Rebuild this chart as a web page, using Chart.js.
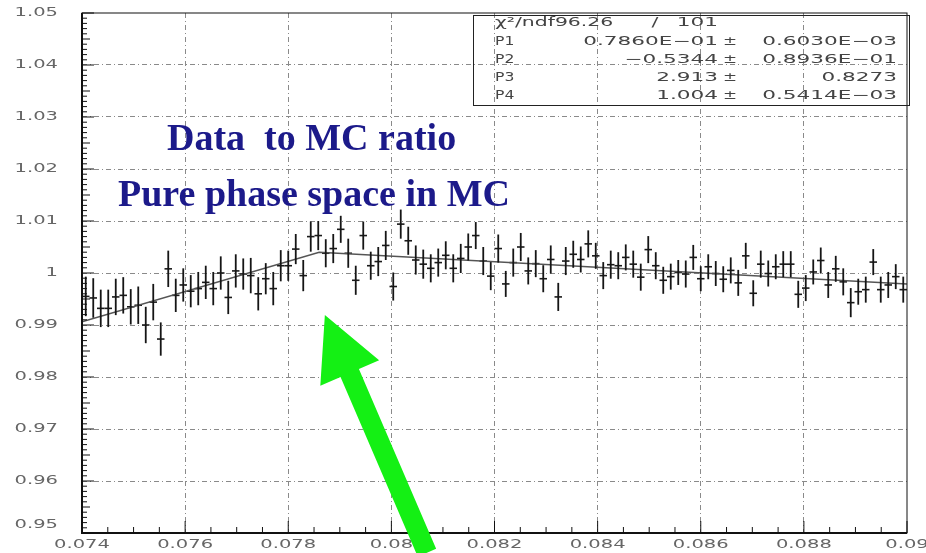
<!DOCTYPE html>
<html>
<head>
<meta charset="utf-8">
<script src="https://cdn.jsdelivr.net/npm/chart.js@4.4.0/dist/chart.umd.min.js"></script>
<style>
  html, body { margin: 0; padding: 0; background: #fff; }
  #wrap { width: 926px; height: 553px; }
</style>
</head>
<body>
<div id="wrap"><canvas id="ratioChart" width="926" height="553"></canvas></div>
<script>
// axis ranges
const xMin = 0.074, xMax = 0.09;
const yMin = 0.95, yMax = 1.05;

// data / MC ratio per bin
const ratioValues = [
  0.9955, 0.9952, 0.9932, 0.9932, 0.9954, 0.9957, 0.9935, 0.9938, 0.9900, 0.9944,
  0.9873, 1.0008, 0.9957, 0.9977, 0.9965, 0.9970, 0.9982, 0.9970, 1.0000, 0.9953,
  1.0004, 0.9998, 0.9995, 0.9960, 0.9989, 0.9970, 1.0014, 1.0014, 1.0046, 0.9995,
  1.0070, 1.0072, 1.0038, 1.0047, 1.0084, 1.0038, 0.9986, 1.0072, 1.0014, 1.0022,
  1.0053, 0.9974, 1.0094, 1.0062, 1.0025, 1.0017, 1.0009, 1.0020, 1.0034, 1.0009,
  1.0028, 1.0050, 1.0072, 1.0023, 0.9994, 1.0047, 0.9979, 1.0020, 1.0050, 1.0004,
  1.0018, 0.9989, 1.0026, 0.9954, 1.0023, 1.0036, 1.0026, 1.0056, 1.0033, 0.9995,
  1.0016, 1.0014, 1.0030, 1.0017, 0.9992, 1.0045, 1.0014, 0.9986, 0.9993, 1.0001,
  0.9998, 1.0030, 0.9989, 1.0012, 0.9999, 0.9988, 1.0005, 0.9981, 1.0033, 0.9961,
  1.0017, 0.9999, 1.0012, 1.0017, 1.0017, 0.9959, 0.9971, 1.0002, 1.0024, 0.9977,
  1.0008, 0.9983, 0.9943, 0.9964, 0.9968, 1.0021, 0.9968, 0.9977, 0.9993, 0.9968
];
const ratioErrors = [
  0.0038, 0.0038, 0.0036, 0.0036, 0.0035, 0.0035, 0.0034, 0.0036, 0.0035, 0.0035,
  0.0032, 0.0035, 0.0032, 0.0032, 0.0031, 0.0032, 0.0032, 0.0032, 0.0032, 0.0032,
  0.0032, 0.0030, 0.0034, 0.0032, 0.0030, 0.0032, 0.0030, 0.0029, 0.0029, 0.0030,
  0.0029, 0.0028, 0.0027, 0.0028, 0.0026, 0.0028, 0.0028, 0.0027, 0.0027, 0.0028,
  0.0028, 0.0027, 0.0028, 0.0027, 0.0028, 0.0028, 0.0027, 0.0027, 0.0027, 0.0027,
  0.0028, 0.0026, 0.0026, 0.0027, 0.0027, 0.0027, 0.0025, 0.0027, 0.0027, 0.0026,
  0.0026, 0.0026, 0.0027, 0.0027, 0.0027, 0.0026, 0.0025, 0.0026, 0.0025, 0.0026,
  0.0027, 0.0026, 0.0025, 0.0026, 0.0026, 0.0026, 0.0026, 0.0026, 0.0025, 0.0024,
  0.0026, 0.0024, 0.0024, 0.0024, 0.0024, 0.0025, 0.0025, 0.0025, 0.0025, 0.0025,
  0.0026, 0.0025, 0.0024, 0.0025, 0.0025, 0.0026, 0.0025, 0.0024, 0.0025, 0.0025,
  0.0025, 0.0026, 0.0028, 0.0025, 0.0025, 0.0025, 0.0025, 0.0025, 0.0024, 0.0025
];

// fitted broken line (P1 = break point)
const fitX = [0.074, 0.0786, 0.09];
const fitY = [0.9906, 1.0040, 0.9979];

const xTickValues = [0.074, 0.076, 0.078, 0.08, 0.082, 0.084, 0.086, 0.088, 0.09];
const xTickLabels = ['0.074', '0.076', '0.078', '0.08', '0.082', '0.084', '0.086', '0.088', '0.09'];
const yTickValues = [0.95, 0.96, 0.97, 0.98, 0.99, 1.0, 1.01, 1.02, 1.03, 1.04, 1.05];
const yTickLabels = ['0.95', '0.96', '0.97', '0.98', '0.99', '1', '1.01', '1.02', '1.03', '1.04', '1.05'];

// fit statistics box
const chiLabel = '\u03c7\u00b2/ndf';
const chiValue = '96.26';
const ndfValue = '101';
const parNames = ['P1', 'P2', 'P3', 'P4'];
const parValues = ['0.7860E\u221201', '\u22120.5344', '2.913', '1.004'];
const parErrors = ['0.6030E\u221203', '0.8936E\u221201', '0.8273', '0.5414E\u221203'];

const titleLines = ['Data  to MC ratio', 'Pure phase space in MC'];

// arrow in data coordinates: tip and tail
const arrowTip = [0.07871, 0.9919];
const arrowTail = [0.08069, 0.9462];

const binWidth = (xMax - xMin) / ratioValues.length;
const ratioPoints = ratioValues.map((v, i) => ({ x: xMin + (i + 0.5) * binWidth, y: v }));
const fitPoints = fitX.map((x, i) => ({ x: x, y: fitY[i] }));

function wideText(ctx, text, x, y, sx, align) {
    const w = ctx.measureText(text).width * sx;
    let left = x;
    if (align === 'right') left = x - w;
    else if (align === 'center') left = x - w / 2;
    ctx.save();
    ctx.translate(left, y);
    ctx.scale(sx, 1);
    ctx.textAlign = 'left';
    ctx.fillText(text, 0, 0);
    ctx.restore();
}

const rootStyle = {
    id: 'rootStyle',
    afterDatasetsDraw(chart) {
        const ctx = chart.ctx;
        const xs = chart.scales.x, ys = chart.scales.y;
        // vertical error bars
        ctx.save();
        ctx.strokeStyle = '#151515';
        ctx.lineWidth = 1.8;
        ratioPoints.forEach((p, i) => {
            const px = xs.getPixelForValue(p.x);
            ctx.beginPath();
            ctx.moveTo(px, ys.getPixelForValue(p.y - ratioErrors[i]));
            ctx.lineTo(px, ys.getPixelForValue(p.y + ratioErrors[i]));
            ctx.stroke();
        });
        ctx.restore();
    },
    afterDraw(chart) {
        const ctx = chart.ctx;
        const area = chart.chartArea;
        const xs = chart.scales.x, ys = chart.scales.y;

        ctx.save();
        // frame
        ctx.strokeStyle = '#111';
        ctx.lineWidth = 1;
        ctx.strokeRect(area.left, area.top, area.right - area.left, area.bottom - area.top);
        ctx.lineWidth = 2;
        ctx.beginPath();
        ctx.moveTo(area.left, area.top);
        ctx.lineTo(area.left, area.bottom);
        ctx.lineTo(area.right, area.bottom);
        ctx.stroke();

        // inward ticks on y axis
        ctx.lineWidth = 1;
        for (let k = 0; k <= 100; k++) {
            const py = ys.getPixelForValue(yMin + k * 0.001);
            const len = (k % 10 === 0) ? 12 : (k % 5 === 0 ? 8 : 5);
            ctx.beginPath();
            ctx.moveTo(area.left, py);
            ctx.lineTo(area.left + len, py);
            ctx.stroke();
        }
        // inward ticks on x axis
        for (let k = 0; k <= 32; k++) {
            const px = xs.getPixelForValue(xMin + k * 0.0005);
            const len = (k % 4 === 0) ? 12 : 6;
            ctx.beginPath();
            ctx.moveTo(px, area.bottom);
            ctx.lineTo(px, area.bottom - len);
            ctx.stroke();
        }

        // tick labels
        ctx.fillStyle = '#666';
        ctx.font = '13px "DejaVu Sans"';
        ctx.textBaseline = 'middle';
        yTickValues.forEach((v, i) => {
            const py = Math.min(ys.getPixelForValue(v), area.bottom - 8);
            wideText(ctx, yTickLabels[i], 58, py, 1.5, 'right');
        });
        ctx.textBaseline = 'top';
        xTickValues.forEach((v, i) => {
            wideText(ctx, xTickLabels[i], xs.getPixelForValue(v), 538, 1.5, 'center');
        });

        // stats box
        ctx.lineWidth = 1;
        ctx.strokeStyle = '#222';
        ctx.strokeRect(473.5, 15.5, 436, 90);
        ctx.fillStyle = '#444';
        ctx.font = '12px "DejaVu Sans"';
        ctx.textBaseline = 'middle';
        const rowY = [23, 42, 60, 78, 96];
        ctx.save();
        ctx.translate(495, rowY[0]);
        ctx.scale(1.7, 1);
        ctx.fillText(chiLabel + chiValue, 0, 0);
        ctx.restore();
        wideText(ctx, '/', 655, rowY[0], 1.7, 'center');
        wideText(ctx, ndfValue, 718, rowY[0], 1.8, 'right');
        parNames.forEach((name, i) => {
            const y = rowY[i + 1];
            wideText(ctx, name, 495, y, 1.3, 'left');
            wideText(ctx, parValues[i], 718, y, 1.8, 'right');
            wideText(ctx, '\u00b1', 730, y, 1.4, 'center');
            wideText(ctx, parErrors[i], 897, y, 1.8, 'right');
        });

        // title text
        ctx.fillStyle = '#1c1a8a';
        ctx.font = 'bold 38px "Liberation Serif"';
        ctx.textBaseline = 'alphabetic';
        ctx.textAlign = 'left';
        ctx.fillText(titleLines[0], 167, 150);
        ctx.fillText(titleLines[1], 118, 206);

        // green arrow
        const tx = xs.getPixelForValue(arrowTip[0]), ty = ys.getPixelForValue(arrowTip[1]);
        const bx = xs.getPixelForValue(arrowTail[0]), by = ys.getPixelForValue(arrowTail[1]);
        const len = Math.hypot(bx - tx, by - ty);
        const ux = (bx - tx) / len, uy = (by - ty) / len;
        const nx = -uy, ny = ux;
        const headLen = 63, headHalf = 32, shaftHalf = 10;
        const hx = tx + ux * headLen, hy = ty + uy * headLen;
        ctx.fillStyle = '#14f014';
        ctx.beginPath();
        ctx.moveTo(tx, ty);
        ctx.lineTo(hx + nx * headHalf, hy + ny * headHalf);
        ctx.lineTo(hx + nx * shaftHalf, hy + ny * shaftHalf);
        ctx.lineTo(bx + nx * shaftHalf, by + ny * shaftHalf);
        ctx.lineTo(bx - nx * shaftHalf, by - ny * shaftHalf);
        ctx.lineTo(hx - nx * shaftHalf, hy - ny * shaftHalf);
        ctx.lineTo(hx - nx * headHalf, hy - ny * headHalf);
        ctx.closePath();
        ctx.fill();
        ctx.restore();
    }
};

const gridColor = (c) => (c.index === 0 || c.index === c.chart.scales[c.scale.id].ticks.length - 1) ? 'rgba(0,0,0,0)' : '#8a8a8a';

new Chart(document.getElementById('ratioChart'), {
    type: 'scatter',
    data: {
        datasets: [
            {
                label: 'fit',
                data: fitPoints,
                showLine: true,
                borderColor: '#555',
                borderWidth: 1.5,
                pointRadius: 0,
                fill: false
            },
            {
                label: 'data/MC',
                data: ratioPoints,
                pointStyle: 'line',
                pointRadius: 3.75,
                pointHoverRadius: 3.75,
                pointBorderWidth: 1.6,
                pointBorderColor: '#1a1a1a',
                borderColor: '#1a1a1a'
            }
        ]
    },
    options: {
        responsive: false,
        devicePixelRatio: 1,
        animation: false,
        events: [],
        layout: { padding: { top: 13, right: 19, left: 0, bottom: 0 } },
        plugins: { legend: { display: false }, tooltip: { enabled: false } },
        scales: {
            x: {
                type: 'linear',
                min: xMin,
                max: xMax,
                ticks: { stepSize: 0.002, display: false },
                grid: { color: gridColor, lineWidth: 1, drawTicks: false },
                border: { display: false, dash: [5, 3, 1, 3] },
                afterFit(scale) { scale.height = 20; scale.paddingLeft = 0; scale.paddingRight = 0; }
            },
            y: {
                type: 'linear',
                min: yMin,
                max: yMax,
                ticks: { stepSize: 0.01, display: false },
                grid: { color: gridColor, lineWidth: 1, drawTicks: false },
                border: { display: false, dash: [5, 3, 1, 3] },
                afterFit(scale) { scale.width = 82; scale.paddingTop = 0; scale.paddingBottom = 0; }
            }
        }
    },
    plugins: [rootStyle]
});
</script>
</body>
</html>
